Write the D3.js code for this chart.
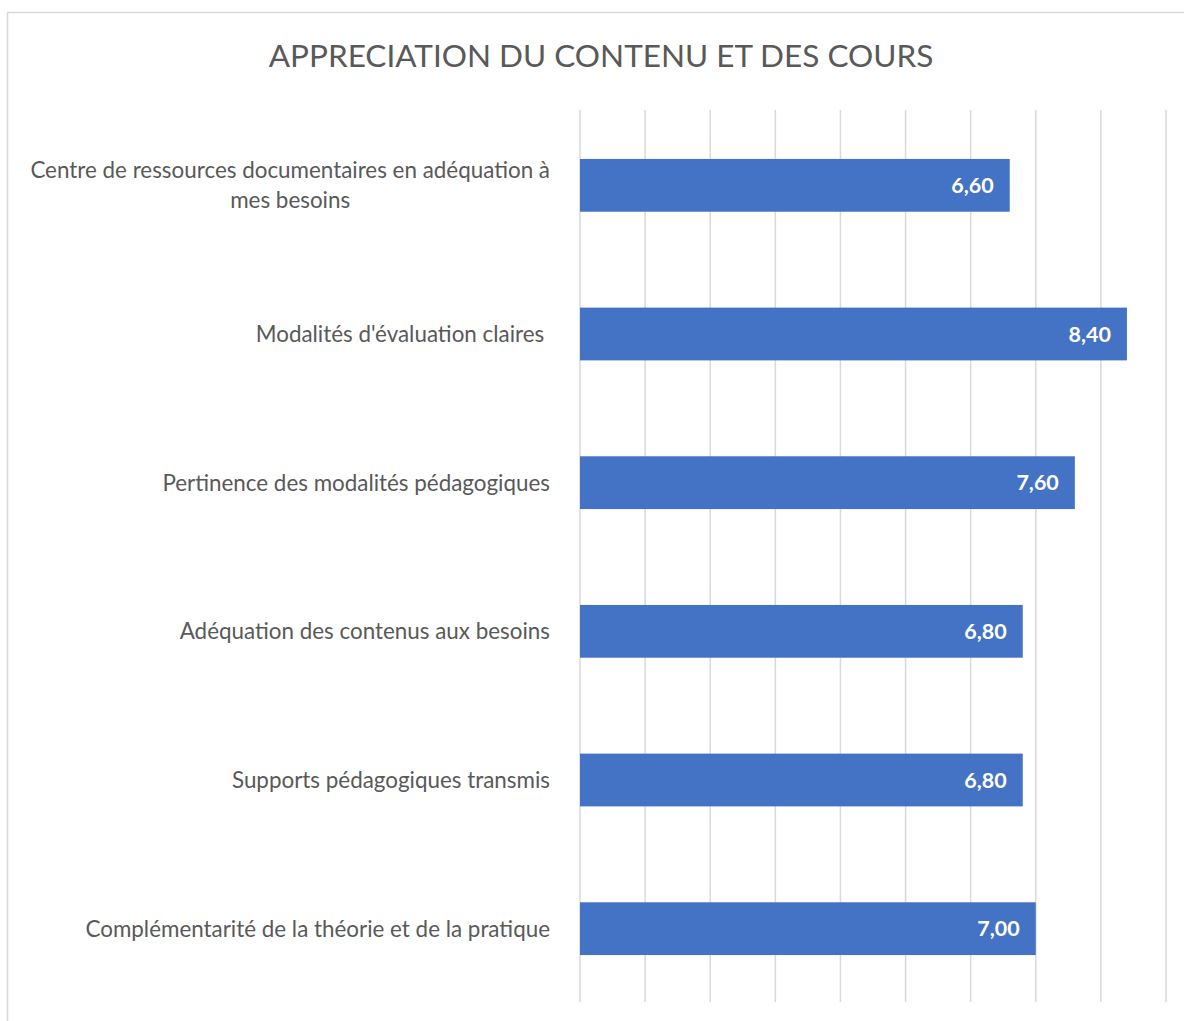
<!DOCTYPE html>
<html>
<head>
<meta charset="utf-8">
<script src="https://cdn.jsdelivr.net/npm/d3@7/dist/d3.min.js"></script>
<style>
  body { margin: 0; background: #fff; }
  svg { display: block; }
</style>
</head>
<body>
<div id="chart"></div>
<script>
  'use strict';

  ////////// Data //////////
  const categories = [
    'Centre de ressources documentaires en adéquation à|mes besoins',
    "Modalités d'évaluation claires ",
    'Pertinence des modalités pédagogiques',
    'Adéquation des contenus aux besoins',
    'Supports pédagogiques transmis',
    'Complémentarité de la théorie et de la pratique'
  ];
  const values = [6.6, 8.4, 7.6, 6.8, 6.8, 7.0];
  const xTicks = [0, 1, 2, 3, 4, 5, 6, 7, 8, 9];
  const title = 'APPRECIATION DU CONTENU ET DES COURS';

  ////////// Sizing //////////
  const width = 1184;
  const height = 1021;
  const margin = { top: 111, right: 18, bottom: 18, left: 580 };
  const labelFont = 'Lato, "Open Sans", sans-serif';
  const barColor = '#4472c4';
  const gridColor = '#d9d9d9';
  const textColor = '#595959';

  const svg = d3.select('#chart').append('svg')
    .attr('width', width)
    .attr('height', height);

  // chart area border
  svg.append('rect')
    .attr('x', 7.5)
    .attr('y', 12.5)
    .attr('width', width + 10)
    .attr('height', height + 10)
    .attr('fill', '#fff')
    .attr('stroke', gridColor)
    .attr('stroke-width', 1.5);

  const x = d3.scaleLinear()
    .domain([0, 9])
    .range([margin.left, 1166]);

  const y = d3.scaleBand()
    .domain(categories)
    .range([margin.top, height - margin.bottom])
    .paddingInner(0.645)
    .paddingOuter(0.3225);

  // title
  svg.append('text')
    .attr('x', 601)
    .attr('y', 67)
    .attr('text-anchor', 'middle')
    .style('font', `31.5px ${labelFont}`)
    .attr('fill', textColor)
    .text(title);

  // vertical gridlines
  svg.append('g')
    .attr('class', 'grid')
    .selectAll('line')
    .data(xTicks)
    .enter().append('line')
      .attr('x1', d => x(d))
      .attr('x2', d => x(d))
      .attr('y1', 110)
      .attr('y2', 1002)
      .attr('stroke', gridColor)
      .attr('stroke-width', 1.5);

  // bars
  svg.append('g')
    .attr('class', 'bars')
    .selectAll('rect')
    .data(values)
    .enter().append('rect')
      .attr('x', x(0))
      .attr('y', (d, i) => y(categories[i]))
      .attr('width', d => x(d) - x(0))
      .attr('height', y.bandwidth())
      .attr('fill', barColor);

  // value labels
  svg.append('g')
    .attr('class', 'values')
    .selectAll('text')
    .data(values)
    .enter().append('text')
      .attr('x', d => x(d) - 16)
      .attr('y', (d, i) => y(categories[i]) + y.bandwidth() / 2)
      .attr('dy', '0.36em')
      .attr('text-anchor', 'end')
      .attr('fill', '#fff')
      .style('font', `bold 21.5px ${labelFont}`)
      .text(d => d.toFixed(2).replace('.', ','));

  // category labels (multi-line labels are centred on their longest line)
  const labelRight = 550;
  const lineHeight = 30;
  const labels = svg.append('g').attr('class', 'labels')
    .style('font', `22.4px ${labelFont}`)
    .attr('fill', textColor);

  categories.forEach(cat => {
    const lines = cat.split('|');
    const cy = y(cat) + y.bandwidth() / 2;
    const g = labels.append('g');
    const texts = lines.map((line, i) => g.append('text')
      .attr('xml:space', 'preserve')
      .attr('y', cy + (i - (lines.length - 1) / 2) * lineHeight)
      .attr('dy', '0.35em')
      .text(line));
    const widths = texts.map(t => t.node().getComputedTextLength());
    const maxW = d3.max(widths);
    const centre = labelRight - maxW / 2;
    texts.forEach((t, i) => {
      if (lines.length === 1) t.attr('x', labelRight).attr('text-anchor', 'end');
      else t.attr('x', centre).attr('text-anchor', 'middle');
    });
  });
</script>
</body>
</html>
